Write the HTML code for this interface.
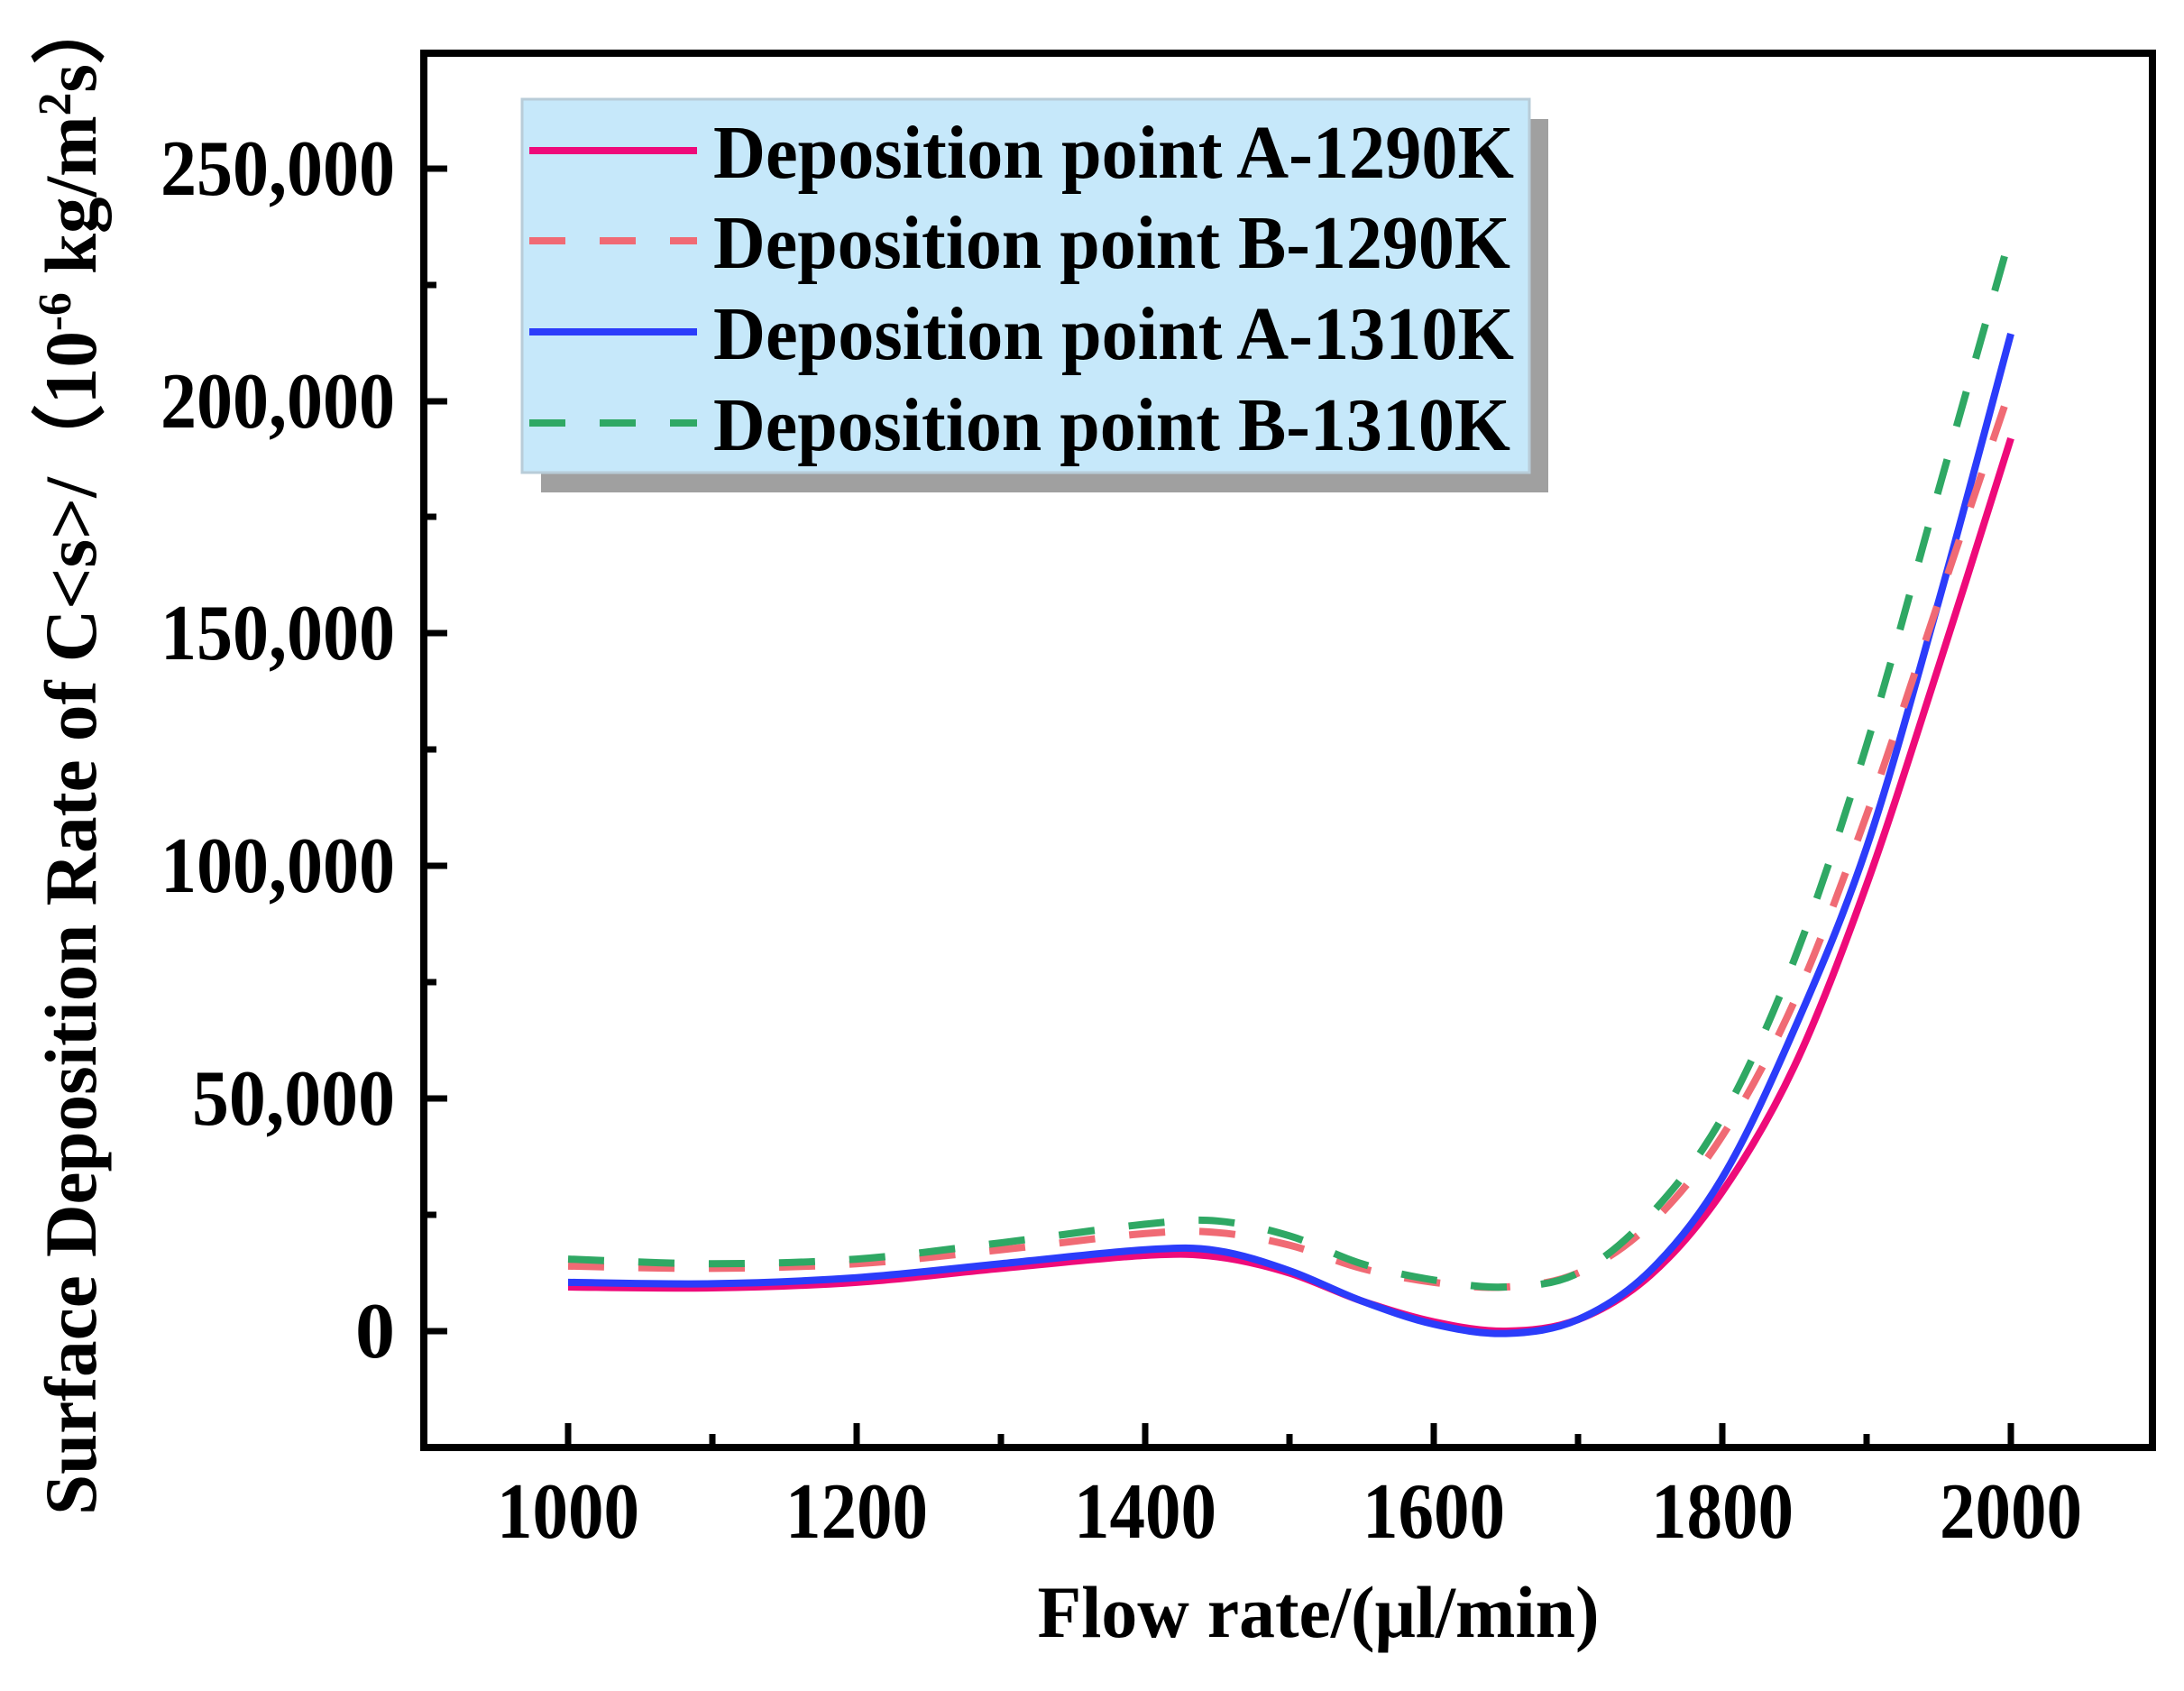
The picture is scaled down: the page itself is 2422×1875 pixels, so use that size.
<!DOCTYPE html>
<html><head><meta charset="utf-8"><style>
html,body{margin:0;padding:0;background:#fff;}
svg{display:block;}
text{font-family:"Liberation Serif",serif;font-weight:bold;fill:#000;}
</style></head><body>
<svg id="s" width="2422" height="1875" viewBox="0 0 2422 1875" xmlns="http://www.w3.org/2000/svg">
<rect x="0" y="0" width="2422" height="1875" fill="#fff"/>
<g id="curves"></g>
<rect x="470" y="59" width="1917" height="1546" fill="none" stroke="#000" stroke-width="8"/>
<g stroke="#000" stroke-width="7">
<line x1="470" y1="1476" x2="496" y2="1476"/><line x1="470" y1="1218" x2="496" y2="1218"/>
<line x1="470" y1="960" x2="496" y2="960"/><line x1="470" y1="702" x2="496" y2="702"/>
<line x1="470" y1="445" x2="496" y2="445"/><line x1="470" y1="187" x2="496" y2="187"/>
<line x1="470" y1="1347" x2="484" y2="1347"/><line x1="470" y1="1089" x2="484" y2="1089"/>
<line x1="470" y1="831" x2="484" y2="831"/><line x1="470" y1="573" x2="484" y2="573"/>
<line x1="470" y1="316" x2="484" y2="316"/>
<line x1="630" y1="1605" x2="630" y2="1578"/><line x1="950" y1="1605" x2="950" y2="1578"/>
<line x1="1270" y1="1605" x2="1270" y2="1578"/><line x1="1590" y1="1605" x2="1590" y2="1578"/>
<line x1="1910" y1="1605" x2="1910" y2="1578"/><line x1="2230" y1="1605" x2="2230" y2="1578"/>
<line x1="790" y1="1605" x2="790" y2="1590"/><line x1="1110" y1="1605" x2="1110" y2="1590"/>
<line x1="1430" y1="1605" x2="1430" y2="1590"/><line x1="1750" y1="1605" x2="1750" y2="1590"/>
<line x1="2070" y1="1605" x2="2070" y2="1590"/>
</g>
<g font-size="88" text-anchor="end">
<text x="438" y="1505">0</text>
<text x="438" y="1247" textLength="225" lengthAdjust="spacingAndGlyphs">50,000</text>
<text x="438" y="989" textLength="260" lengthAdjust="spacingAndGlyphs">100,000</text>
<text x="438" y="731" textLength="260" lengthAdjust="spacingAndGlyphs">150,000</text>
<text x="438" y="474" textLength="260" lengthAdjust="spacingAndGlyphs">200,000</text>
<text x="438" y="216" textLength="260" lengthAdjust="spacingAndGlyphs">250,000</text>
</g>
<g font-size="88" text-anchor="middle">
<text x="630" y="1705" textLength="158" lengthAdjust="spacingAndGlyphs">1000</text>
<text x="950" y="1705" textLength="158" lengthAdjust="spacingAndGlyphs">1200</text>
<text x="1270" y="1705" textLength="158" lengthAdjust="spacingAndGlyphs">1400</text>
<text x="1590" y="1705" textLength="158" lengthAdjust="spacingAndGlyphs">1600</text>
<text x="1910" y="1705" textLength="158" lengthAdjust="spacingAndGlyphs">1800</text>
<text x="2230" y="1705" textLength="158" lengthAdjust="spacingAndGlyphs">2000</text>
<text x="1462" y="1815" font-size="82" textLength="623" lengthAdjust="spacingAndGlyphs">Flow rate/(μl/min)</text>
</g>
<text font-size="82" text-anchor="middle" transform="translate(106,835) rotate(-90)" textLength="1690" lengthAdjust="spacingAndGlyphs">Surface Deposition Rate of C&lt;s&gt;/（10<tspan baseline-shift="super" font-size="52">-6</tspan> kg/m<tspan baseline-shift="super" font-size="52">2</tspan>s）</text>
<rect x="600" y="132" width="1117" height="414" fill="#a0a0a0"/>
<rect x="579" y="110" width="1117" height="414" fill="#c6e8fa" stroke="#b8ccd8" stroke-width="3"/>
<line x1="587" y1="167" x2="773" y2="167" stroke="#ee0a7a" stroke-width="8"/>
<line x1="587" y1="267" x2="773" y2="267" stroke="#f06a74" stroke-width="8" stroke-dasharray="40 38"/>
<line x1="587" y1="368" x2="773" y2="368" stroke="#2b3cfa" stroke-width="8"/>
<line x1="587" y1="469" x2="773" y2="469" stroke="#2fa864" stroke-width="8" stroke-dasharray="40 38"/>
<g font-size="84">
<text x="791" y="197" textLength="888" lengthAdjust="spacingAndGlyphs">Deposition point A-1290K</text>
<text x="791" y="297" textLength="884" lengthAdjust="spacingAndGlyphs">Deposition point B-1290K</text>
<text x="791" y="398" textLength="888" lengthAdjust="spacingAndGlyphs">Deposition point A-1310K</text>
<text x="791" y="499" textLength="884" lengthAdjust="spacingAndGlyphs">Deposition point B-1310K</text>
</g>
</svg>
<script>
(function(){
var xs=[1000,1100,1200,1300,1400,1450,1500,1550,1600,1650,1700,1750,1800,1850,1900,1950,2000];
var S=[
 {c:"#ee0a7a",d:"",v:[9.5,9.3,10.5,13.5,16.3,16,12.5,6.5,2,0,2.5,12,30,57,96,143,192]},
 {c:"#2b3cfa",d:"",v:[10.5,10.2,11.5,14.5,17.5,17.3,13,6.5,1.5,-0.5,2.5,13,33,65,104,157,214.5]},
 {c:"#f06a74",d:"40 38",v:[14,13.5,14.5,17.5,21,21.2,18.5,13.5,10.5,9.5,12.5,23,42,71,111,157,203]},
 {c:"#2fa864",d:"40 38",v:[15.5,14.5,15.5,19,23,23.7,20.5,14.5,11,9.5,12.5,25,46,80,126,181,236]}
];
function px(x){return 630+(x-1000)*1.6;}
function py(v){return 1476-v*1000*0.005156;}
var g=document.getElementById("curves"),ns="http://www.w3.org/2000/svg";
S.forEach(function(s){
 var P=xs.map(function(x,i){return [px(x),py(s.v[i])];});
 var d="M"+P[0][0]+","+P[0][1];
 for(var i=0;i<P.length-1;i++){
  var p0=P[Math.max(i-1,0)],p1=P[i],p2=P[i+1],p3=P[Math.min(i+2,P.length-1)];
  var c1=[p1[0]+(p2[0]-p0[0])/6,p1[1]+(p2[1]-p0[1])/6];
  var c2=[p2[0]-(p3[0]-p1[0])/6,p2[1]-(p3[1]-p1[1])/6];
  d+=" C"+c1[0]+","+c1[1]+" "+c2[0]+","+c2[1]+" "+p2[0]+","+p2[1];
 }
 var e=document.createElementNS(ns,"path");
 e.setAttribute("d",d);e.setAttribute("fill","none");e.setAttribute("stroke",s.c);
 e.setAttribute("stroke-width","8");if(s.d)e.setAttribute("stroke-dasharray",s.d);
 g.appendChild(e);
});
})();
</script>
</body></html>
